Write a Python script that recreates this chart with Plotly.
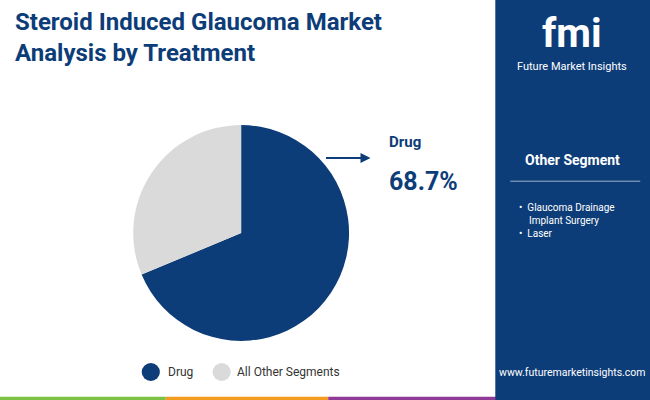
import plotly.graph_objects as go

labels = ["Drug", "All Other Segments"]
values = [68.7, 31.3]
colors = ["#0d3d78", "#dadada"]
other_items = ["Glaucoma Drainage<br>Implant Surgery", "Laser"]

fig = go.Figure()
fig.add_trace(go.Pie(
    labels=labels, values=values, sort=False, direction="clockwise", rotation=0,
    marker=dict(colors=colors, line=dict(width=0)),
    textinfo="none", hoverinfo="label+percent", showlegend=False,
    domain=dict(x=[0.205, 0.537], y=[0.1475, 0.6875]),
))

shapes = [
    dict(type="rect", xref="paper", yref="paper", x0=0.762, x1=1, y0=0, y1=1,
         fillcolor="#0d3d78", line=dict(width=0), layer="below"),
    dict(type="line", xref="paper", yref="paper", x0=0.785, x1=0.985, y0=0.547, y1=0.547,
         line=dict(color="#9fb3cc", width=1)),
]
# bottom color strip
strip = ["#7cc142", "#f39b1f", "#8e3a96", "#0d3d78"]
edges = [0, 0.255, 0.505, 0.762, 1]
for c, a, b in zip(strip, edges[:-1], edges[1:]):
    shapes.append(dict(type="rect", xref="paper", yref="paper", x0=a, x1=b, y0=0, y1=0.008,
                       fillcolor=c, line=dict(width=0)))
# legend markers
for x, c in [(0.232, colors[0]), (0.341, colors[1])]:
    shapes.append(dict(type="circle", xref="paper", yref="paper", x0=x - 0.014, x1=x + 0.014,
                       y0=0.07 - 0.0225, y1=0.07 + 0.0225, fillcolor=c, line=dict(width=0)))

ann = [
    dict(x=0.02, y=0.985, xanchor="left", yanchor="top", align="left",
         text="<b>Steroid Induced Glaucoma Market<br>Analysis by Treatment</b>",
         font=dict(size=24, color="#0d3d78", family="Roboto")),
    dict(x=0.595, y=0.645, xanchor="left", yanchor="middle", text="<b>Drug</b>",
         font=dict(size=15, color="#0d3d78", family="Roboto")),
    dict(x=0.595, y=0.545, xanchor="left", yanchor="middle", text="<b>68.7%</b>",
         font=dict(size=25, color="#0d3d78", family="Roboto")),
    dict(x=0.57, y=0.605, ax=-46, ay=0, axref="pixel", ayref="pixel",
         text="", showarrow=True, arrowhead=2, arrowsize=1, arrowwidth=2, arrowcolor="#0d3d78",
         standoff=0),
    dict(x=0.88, y=0.915, xanchor="center", yanchor="middle", text="<b>fmi</b>",
         font=dict(size=40, color="white", family="Roboto")),
    dict(x=0.88, y=0.835, xanchor="center", yanchor="middle", text="Future Market Insights",
         font=dict(size=11, color="white", family="Roboto")),
    dict(x=0.88, y=0.6, xanchor="center", yanchor="middle", text="<b>Other Segment</b>",
         font=dict(size=14, color="white", family="Roboto")),
    dict(x=0.795, y=0.5, xanchor="left", yanchor="top", align="left",
         text="•  " + other_items[0].replace("<br>", "<br>    ") + "<br>•  " + other_items[1],
         font=dict(size=10, color="white", family="Roboto")),
    dict(x=0.88, y=0.068, xanchor="center", yanchor="middle", text="www.futuremarketinsights.com",
         font=dict(size=10.5, color="white", family="Roboto")),
    dict(x=0.255, y=0.07, xanchor="left", yanchor="middle", text=labels[0],
         font=dict(size=12, color="#333", family="Roboto")),
    dict(x=0.362, y=0.07, xanchor="left", yanchor="middle", text=labels[1],
         font=dict(size=12, color="#333", family="Roboto")),
]
for a in ann:
    a.setdefault("xref", "paper")
    a.setdefault("yref", "paper")
    a.setdefault("showarrow", False)

fig.update_layout(width=650, height=400, margin=dict(l=0, r=0, t=0, b=0),
                  paper_bgcolor="white", plot_bgcolor="white",
                  shapes=shapes, annotations=ann)
fig.write_html("out.html", config={"displayModeBar": False},
               post_script="document.body.style.margin='0';document.body.style.overflow='hidden';")
